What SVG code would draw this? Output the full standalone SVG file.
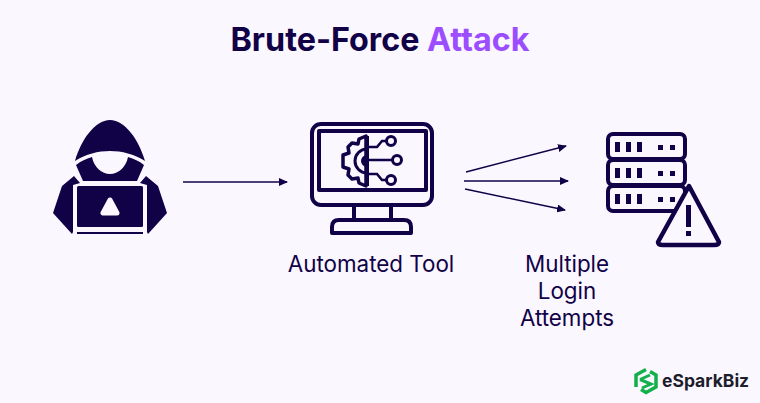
<svg xmlns="http://www.w3.org/2000/svg" width="760" height="403" viewBox="0 0 760 403">
<style>
.t{font-family:Inter,"Liberation Sans",sans-serif;fill:#110247}
.l{font-size:22.4px;text-anchor:middle}
.s{fill:none;stroke:#110247;stroke-width:4;stroke-linejoin:round;stroke-linecap:round}
.d{fill:#110247}
.c{fill:none;stroke:#110247;stroke-width:1.4}
.w{fill:#fbf7ff;stroke:#110247;stroke-width:3}
</style>
<defs><marker id="a" markerWidth="9" markerHeight="8" refX="8" refY="4" orient="auto" markerUnits="userSpaceOnUse"><path d="M0 0L9 4L0 8Z" fill="#110247"/></marker></defs>
<rect width="760" height="403" fill="#fbf7ff"/>
<text x="380" y="50.500" text-anchor="middle" class="t" font-size="32.300" font-weight="700">Brute-Force <tspan fill="#9b4dff">Attack</tspan></text>
<g id="hacker">
<path class="d" d="M75 161C81 140 95 120 110 120C125 120 139 140 145 161C134 154 122 151 110 151C98 151 86 154 75 161Z"/>
<path class="d" d="M76 165C81 161 86 159 92 157A18.500 22 0 0 0 128 157C134 159 139 161 144 165L137 181H83Z"/>
<path class="d" d="M74 176L80 183L73 185V232L72 234L53 213L62 186ZM146 176L140 183L147 185V232L148 234L167 213L158 186Z"/>
<rect class="d" x="77" y="186" width="66" height="41" rx="1.500"/>
<rect class="d" x="77" y="232" width="66" height="2"/>
<path d="M110 200L103 213H117Z" fill="#fbf7ff" stroke="#fbf7ff" stroke-width="5" stroke-linejoin="round"/>
</g>
<g id="tool">
<rect class="s" x="312" y="124" width="120" height="81" rx="9"/>
<rect class="s" x="319" y="131" width="107" height="59"/>
<path class="s" d="M354 206V220M391 206V220M339 220H404Q411 220 411 227V233H332V227Q332 220 339 220Z"/>
<path d="M366 136V186L359 183L358 178L352 179L348 175L349 169L343 167V155L349 153L348 147L352 143L358 144L359 139Z" fill="none" stroke="#110247" stroke-width="3.500" stroke-linejoin="round"/>
<path d="M367 149A12 12 0 0 0 367 173" fill="none" stroke="#110247" stroke-width="3"/>
<path class="d" d="M365 136H369V186H365ZM367 155A6 6 0 0 0 367 167Z"/>
<path d="M362 160H392M367 147H377L382 141H387M367 174H377L382 180H387" fill="none" stroke="#110247" stroke-width="2.600"/>
<circle class="w" cx="391" cy="141" r="4.500"/>
<circle class="w" cx="397" cy="160" r="4.500"/>
<circle class="w" cx="391" cy="180" r="4.500"/>
</g>
<g id="server">
<rect class="s" x="608" y="134" width="77" height="25" rx="5"/>
<rect class="s" x="608" y="160" width="77" height="25" rx="5"/>
<rect class="s" x="608" y="186" width="77" height="25" rx="5"/>
<g class="d">
<rect x="615" y="142" width="5" height="10"/><rect x="626" y="142" width="5" height="10"/><rect x="637" y="142" width="5" height="10"/><rect x="658" y="145" width="5" height="5"/><rect x="670" y="145" width="5" height="5"/>
<rect x="615" y="168" width="5" height="10"/><rect x="626" y="168" width="5" height="10"/><rect x="637" y="168" width="5" height="10"/><rect x="658" y="171" width="5" height="5"/><rect x="670" y="171" width="5" height="5"/>
<rect x="615" y="194" width="5" height="10"/><rect x="626" y="194" width="5" height="10"/><rect x="637" y="194" width="5" height="10"/><rect x="658" y="197" width="5" height="5"/><rect x="670" y="197" width="5" height="5"/>
</g>
<path d="M689 186L719 242Q719 245 714 245H663Q658 245 658 242Z" fill="#fbf7ff" stroke="#110247" stroke-width="4.500" stroke-linejoin="round"/>
<rect class="d" x="686" y="205" width="5" height="22"/><rect class="d" x="686" y="231" width="5" height="5"/>
</g>
<g id="connectors">
<path class="c" d="M183 182H287" marker-end="url(#a)"/>
<path class="c" d="M466 172L566 146" marker-end="url(#a)"/>
<path class="c" d="M464 181H568" stroke-width="2" marker-end="url(#a)"/>
<path class="c" d="M465 189L565 210" marker-end="url(#a)"/>
</g>
<text class="t l" x="371" y="272">Automated Tool</text>
<text class="t l"><tspan x="567" y="272">Multiple</tspan><tspan x="567" y="299">Login</tspan><tspan x="567" y="326">Attempts</tspan></text>
<g id="logo">
<path d="M636 387V375L646 369.500M650 371.500L656 375V387L646 392.500L641 389.500" fill="none" stroke="#12b04a" stroke-width="3.500"/>
<path d="M640 379.500L650 375M640 379.500L651 384L642 388" fill="none" stroke="#12b04a" stroke-width="3"/>
<text x="662" y="386.500" font-family="Inter,'Liberation Sans',sans-serif" font-size="17.500" font-weight="700" fill="#1d1d2b">eSparkBiz</text>
</g>
</svg>
